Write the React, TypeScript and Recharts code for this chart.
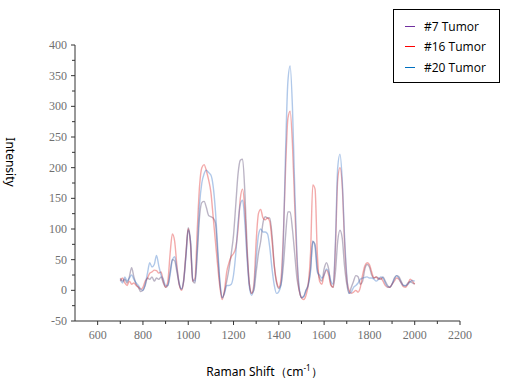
import { LineChart, Line, XAxis, YAxis, Legend, Label } from "recharts";

// Raman shift (cm-1), one sample every 10
const shifts = [
  700, 710, 720, 730, 740, 750, 760, 770, 780, 790,
  800, 810, 820, 830, 840, 850, 860, 870, 880, 890,
  900, 910, 920, 930, 940, 950, 960, 970, 980, 990,
  1000, 1010, 1020, 1030, 1040, 1050, 1060, 1070, 1080, 1090,
  1100, 1110, 1120, 1130, 1140, 1150, 1160, 1170, 1180, 1190,
  1200, 1210, 1220, 1230, 1240, 1250, 1260, 1270, 1280, 1290,
  1300, 1310, 1320, 1330, 1340, 1350, 1360, 1370, 1380, 1390,
  1400, 1410, 1420, 1430, 1440, 1450, 1460, 1470, 1480, 1490,
  1500, 1510, 1520, 1530, 1540, 1550, 1560, 1570, 1580, 1590,
  1600, 1610, 1620, 1630, 1640, 1650, 1660, 1670, 1680, 1690,
  1700, 1710, 1720, 1730, 1740, 1750, 1760, 1770, 1780, 1790,
  1800, 1810, 1820, 1830, 1840, 1850, 1860, 1870, 1880, 1890,
  1900, 1910, 1920, 1930, 1940, 1950, 1960, 1970, 1980, 1990,
  2000,
];

const tumor7 = [
  20, 15, 18, 12, 22, 37, 22, 10, 5, -2,
  0, 8, 20, 18, 22, 15, 20, 18, 22, 12,
  5, 8, 30, 50, 48, 30, 10, 2, 18, 60,
  102, 80, 15, 12, 60, 120, 143, 145, 135, 122,
  120, 118, 110, 60, 10, -12, -3, 15, 35, 60,
  90, 140, 190, 212, 214, 160, 70, 10, -5, 0,
  30, 60, 80, 110, 120, 118, 118, 90, 40, 12,
  3, 10, 40, 90, 128, 128, 100, 60, 20, 0,
  -12, -10, 0, 10, 35, 80, 75, 35, 20, 15,
  35, 45, 35, 10, 5, 30, 80, 98, 85, 40,
  10, -5, 5, 15, 24, 22, 10, 15, 35, 42,
  38, 25, 20, 22, 20, 18, 22, 15, 8, 5,
  10, 20, 24, 22, 15, 8, 7, 12, 14, 12,
  10,
];

const tumor16 = [
  15, 20, 12, 8, 15, 10, 12, 8, 5, 2,
  5, 15, 20, 28, 30, 33, 32, 28, 30, 15,
  5, 15, 60, 92, 80, 40, 10, 0, 15, 60,
  100, 75, 15, 20, 100, 170, 200, 205, 195, 180,
  160, 120, 80, 40, 5, -15, 0, 30, 45, 55,
  60, 70, 100, 150, 165, 130, 60, 10, -5, 10,
  80, 125, 132, 118, 115, 118, 112, 80, 40, 15,
  5, 20, 90, 200, 280, 292, 240, 140, 50, 0,
  -12, -15, -8, 10, 60, 172, 165, 60, 15, 10,
  25, 33, 25, 8, 5, 70, 180, 200, 170, 80,
  20, 0, -5, -3, 0, -3, 5, 25, 40, 45,
  42, 30, 20, 22, 18, 20, 15, 8, 5, 5,
  10, 15, 20, 18, 12, 6, 5, 10, 18, 15,
  10,
];

const tumor20 = [
  18, 12, 22, 15, 20, 25, 18, 12, 8, 2,
  0, 10, 28, 45, 38, 42, 57, 40, 25, 18,
  8, 8, 25, 50, 55, 35, 12, 2, 15, 55,
  98, 80, 18, 15, 70, 140, 175, 190, 196, 192,
  188, 170, 130, 70, 15, -12, -5, 8, 8, 10,
  25, 60, 110, 140, 147, 110, 50, 5, -8, 5,
  50, 90, 100, 95, 95, 92, 70, 35, 8, -5,
  -2, 10, 80, 230, 340, 366, 300, 170, 60, 5,
  -12, -10, 0, 8, 30, 80, 70, 30, 25, 20,
  25, 35, 30, 15, 10, 80, 200, 222, 180, 90,
  25, -5, -3, 5, 8, 12, 18, 20, 21, 22,
  20, 20, 18, 15, 18, 22, 20, 12, 6, 5,
  10, 18, 24, 20, 12, 8, 8, 10, 14, 16,
  15,
];

const xTicks = [600, 700, 800, 900, 1000, 1100, 1200, 1300, 1400, 1500, 1600, 1700, 1800, 1900, 2000, 2100, 2200];
const yTicks = [-50, -25, 0, 25, 50, 75, 100, 125, 150, 175, 200, 225, 250, 275, 300, 325, 350, 375, 400];

const series = [
  { key: "t7", name: "#7 Tumor", color: "#4b3b66", legend: "#7030a0", values: tumor7 },
  { key: "t16", name: "#16 Tumor", color: "#e02020", legend: "#ff0000", values: tumor16 },
  { key: "t20", name: "#20 Tumor", color: "#2f6fc4", legend: "#0070c0", values: tumor20 },
];

const data = shifts.map((s, i) => {
  const row: Record<string, number> = { shift: s };
  series.forEach((sr) => (row[sr.key] = sr.values[i]));
  return row;
});

const tickFont = { fontFamily: "Liberation Serif", fontSize: 12, fill: "#707070" };
const axisColor = "#333";

function XTick({ x, y, payload }: any) {
  const major = payload.value % 200 === 0;
  return (
    <g>
      <line x1={x} x2={x} y1={y} y2={y + (major ? 4 : 3)} stroke={axisColor} />
      {major && (
        <text x={x} y={y + 18} textAnchor="middle" {...tickFont}>
          {payload.value}
        </text>
      )}
    </g>
  );
}

function YTick({ x, y, payload }: any) {
  const major = payload.value % 50 === 0;
  return (
    <g>
      <line x1={x - (major ? 4 : 3)} x2={x} y1={y} y2={y} stroke={axisColor} />
      {major && (
        <text x={x - 8} y={y + 4} textAnchor="end" {...tickFont}>
          {payload.value}
        </text>
      )}
    </g>
  );
}

// legend keeps the series order (recharts would sort it by name)
function LegendBox() {
  return (
    <div
      style={{
        border: "1px solid #000",
        background: "#fff",
        padding: "6px 0 4px 11px",
        fontFamily: "Open Sans",
        fontSize: 12,
        color: "#000",
      }}
    >
      {series.map((s) => (
        <div key={s.key} style={{ display: "flex", alignItems: "center", height: 20.5 }}>
          <span style={{ width: 10, height: 1, background: s.legend, marginRight: 9 }} />
          <span>{s.name}</span>
        </div>
      ))}
    </div>
  );
}

export default function App() {
  return (
    <div style={{ position: "absolute", left: 0, top: 0, width: 508, height: 388, background: "#fff" }}>
      <LineChart width={508} height={388} data={data} margin={{ top: 45, right: 48, bottom: 37, left: 0 }}>
        <XAxis
          dataKey="shift"
          type="number"
          domain={[500, 2200]}
          ticks={xTicks}
          interval={0}
          height={30}
          stroke={axisColor}
          tickLine={false}
          tickSize={0}
          tickMargin={0}
          tick={<XTick />}
        >
          <Label
            content={({ viewBox }: any) => (
              <text
                x={viewBox.x + viewBox.width / 2 - 3}
                y={viewBox.y + 55}
                textAnchor="middle"
                fontFamily="Noto Sans"
                fontSize={12}
                fill="#000"
              >
                Raman Shift（cm
                <tspan dy={-5} fontSize={8}>-1</tspan>
                <tspan dy={5}>）</tspan>
              </text>
            )}
          />
        </XAxis>
        <YAxis
          type="number"
          domain={[-50, 400]}
          ticks={yTicks}
          interval={0}
          width={75}
          stroke={axisColor}
          tickLine={false}
          tickSize={0}
          tickMargin={0}
          tick={<YTick />}
        >
          <Label
            content={({ viewBox }: any) => {
              const cx = viewBox.x + 10;
              const cy = viewBox.y + 117;
              return (
                <text
                  x={cx}
                  y={cy}
                  transform={`rotate(90 ${cx} ${cy})`}
                  textAnchor="middle"
                  dominantBaseline="central"
                  fontFamily="Noto Sans"
                  fontSize={12}
                  fill="#000"
                >
                  Intensity
                </text>
              );
            }}
          />
        </YAxis>
        <Legend
          layout="vertical"
          align="center"
          verticalAlign="middle"
          wrapperStyle={{ top: 9, left: 393, width: 107 }}
          content={<LegendBox />}
        />
        {series.map((s) => (
          <Line
            key={s.key}
            dataKey={s.key}
            name={s.name}
            type="monotone"
            stroke={s.color}
            strokeOpacity={0.38}
            strokeWidth={1.4}
            dot={false}
            activeDot={false}
            isAnimationActive={false}
          />
        ))}
      </LineChart>
    </div>
  );
}
